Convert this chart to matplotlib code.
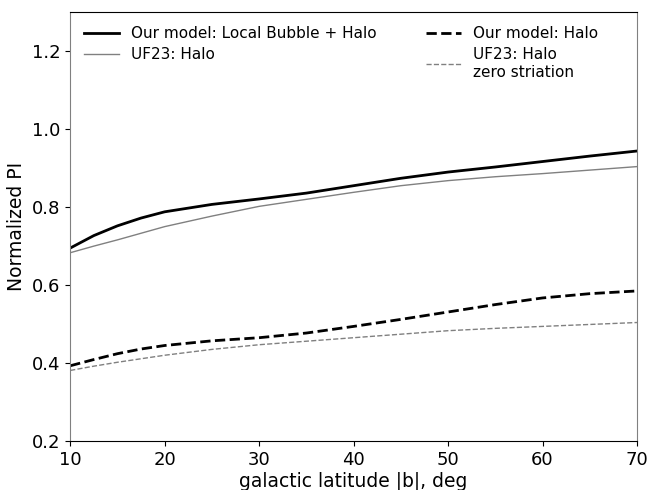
import matplotlib
matplotlib.use("Agg")
import matplotlib.pyplot as plt

# normalized PI vs galactic latitude
lat = [10, 12.5, 15, 17.5, 20, 25, 30, 35, 40, 45, 50, 55, 60, 65, 70]
lb_halo = [0.695, 0.727, 0.752, 0.772, 0.788, 0.807, 0.821, 0.836, 0.855,
           0.874, 0.890, 0.903, 0.917, 0.931, 0.944]
uf23_halo = [0.683, 0.700, 0.716, 0.733, 0.750, 0.777, 0.802, 0.820, 0.838,
             0.855, 0.868, 0.878, 0.886, 0.895, 0.904]
our_halo = [0.393, 0.409, 0.424, 0.436, 0.445, 0.457, 0.465, 0.477, 0.494,
            0.512, 0.531, 0.550, 0.567, 0.578, 0.585]
uf23_zero = [0.381, 0.392, 0.402, 0.411, 0.420, 0.435, 0.447, 0.456, 0.465,
             0.474, 0.483, 0.489, 0.494, 0.499, 0.504]

fig = plt.figure(figsize=(6.5, 4.9), dpi=100)
ax = fig.add_axes([0.108, 0.1, 0.872, 0.875])

ax.plot(lat, lb_halo, color="black", lw=2, label="Our model: Local Bubble + Halo")
ax.plot(lat, uf23_halo, color="gray", lw=1, label="UF23: Halo")
ax.plot(lat, our_halo, color="black", lw=2, ls="--", label="Our model: Halo")
ax.plot(lat, uf23_zero, color="gray", lw=1, ls="--", label="UF23: Halo\nzero striation")

ax.set_xlim(10, 70)
ax.set_ylim(0.2, 1.3)
ax.set_yticks([0.2, 0.4, 0.6, 0.8, 1.0, 1.2])
ax.tick_params(labelsize=13)
ax.set_xlabel("galactic latitude |b|, deg", fontsize=13.5, labelpad=2)
ax.set_ylabel("Normalized PI", fontsize=13.5)

ax.spines["left"].set_color("gray")
ax.spines["right"].set_color("gray")

ax.legend(ncol=2, frameon=False, fontsize=11, loc="upper left",
          columnspacing=3.2, handlelength=2.3, labelspacing=0.4)

fig.savefig("out.png", dpi=100, facecolor="white")
